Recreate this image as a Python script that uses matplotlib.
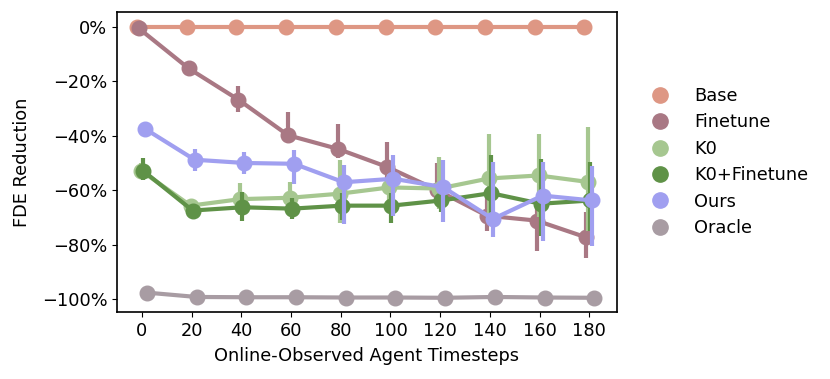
import numpy as np
import matplotlib
matplotlib.use("Agg")
import matplotlib.pyplot as plt
from matplotlib.lines import Line2D

timesteps = [0, 20, 40, 60, 80, 100, 120, 140, 160, 180]
series_names = ["Base", "Finetune", "K0", "K0+Finetune", "Ours", "Oracle"]
colors = ["#de9784", "#a97884", "#a6c790", "#5f9247", "#a09ff0", "#a89ca3"]

base_mean = [0, 0, 0, 0, 0, 0, 0, 0, 0, 0]
base_lo = [-0.3] * 10
base_hi = [0.3] * 10

finetune_mean = [-0.5, -15.2, -26.7, -39.8, -44.8, -51.5, -60.0, -69.4, -71.2, -77.4]
finetune_lo = [-1.5, -17.0, -31.4, -42.3, -48.0, -60.0, -65.0, -75.0, -82.3, -84.8]
finetune_hi = [0.3, -13.5, -21.8, -31.2, -35.5, -42.3, -50.0, -62.6, -65.7, -68.0]

k0_mean = [-52.8, -65.7, -63.3, -62.8, -61.3, -59.0, -59.4, -55.7, -54.6, -57.0]
k0_lo = [-55.5, -68.0, -69.0, -69.0, -72.0, -65.0, -67.0, -72.0, -70.0, -75.0]
k0_hi = [-50.0, -63.5, -57.5, -57.0, -49.0, -54.0, -47.8, -39.2, -39.2, -36.7]

k0ft_mean = [-52.8, -67.5, -66.3, -66.8, -65.7, -65.7, -63.8, -61.1, -65.0, -63.8]
k0ft_lo = [-56.4, -70.0, -71.2, -70.5, -71.0, -72.0, -68.0, -73.0, -77.0, -75.0]
k0ft_hi = [-48.3, -65.0, -60.8, -63.0, -61.0, -61.0, -60.0, -47.2, -48.5, -49.7]

ours_mean = [-37.4, -48.8, -50.0, -50.3, -57.1, -55.8, -58.9, -70.6, -62.0, -63.8]
ours_lo = [-40.0, -52.8, -54.0, -57.6, -72.4, -69.4, -71.8, -77.4, -78.6, -80.4]
ours_hi = [-35.0, -44.7, -46.0, -45.4, -50.9, -47.2, -49.0, -49.7, -49.7, -51.0]

oracle_mean = [-97.7, -99.3, -99.4, -99.4, -99.5, -99.5, -99.6, -99.3, -99.5, -99.6]
oracle_lo = [-98.2, -99.6, -99.7, -99.7, -99.8, -99.8, -99.9, -99.6, -99.8, -99.9]
oracle_hi = [-97.2, -99.0, -99.1, -99.1, -99.2, -99.2, -99.3, -99.0, -99.2, -99.3]

means = [base_mean, finetune_mean, k0_mean, k0ft_mean, ours_mean, oracle_mean]
los = [base_lo, finetune_lo, k0_lo, k0ft_lo, ours_lo, oracle_lo]
his = [base_hi, finetune_hi, k0_hi, k0ft_hi, ours_hi, oracle_hi]

yticks = [0, -20, -40, -60, -80, -100]
ytick_labels = ["0%", "\u221220%", "\u221240%", "\u221260%", "\u221280%", "\u2212100%"]

FS = 12.8
plt.rcParams["font.family"] = ["DejaVu Sans"]
fig = plt.figure(figsize=(8.3, 3.79), dpi=100)
ax = fig.add_axes([0.141, 0.177, 0.602, 0.791])

n = len(series_names)
offsets = np.linspace(-0.1, 0.1, n)
xpos = np.arange(len(timesteps))
for i in range(n):
    x = xpos + offsets[i]
    m = np.array(means[i]); lo = np.array(los[i]); hi = np.array(his[i])
    ax.vlines(x, lo, hi, color=colors[i], lw=3.0, zorder=2 + i)
    ax.plot(x, m, color=colors[i], lw=3.0, marker="o", markersize=10.5, zorder=2 + i)

ax.set_xlim(-0.5, len(timesteps) - 0.45)
ax.set_ylim(-104.8, 5.5)
ax.set_xticks(xpos)
ax.set_xticklabels([str(t) for t in timesteps], fontsize=FS)
ax.set_yticks(yticks)
ax.set_yticklabels(ytick_labels, fontsize=FS)
ax.set_xlabel("Online-Observed Agent Timesteps", fontsize=FS, labelpad=5)
ax.set_ylabel("FDE Reduction", fontsize=FS, labelpad=8)
for s in ax.spines.values():
    s.set_linewidth(1.2)

handles = [Line2D([], [], ls="", marker="o", markersize=11, color=c) for c in colors]
ax.legend(handles, series_names, loc="center left", bbox_to_anchor=(1.02, 0.5),
          frameon=False, fontsize=FS, handletextpad=0.9, labelspacing=0.47)

fig.savefig("out.png", dpi=100)
